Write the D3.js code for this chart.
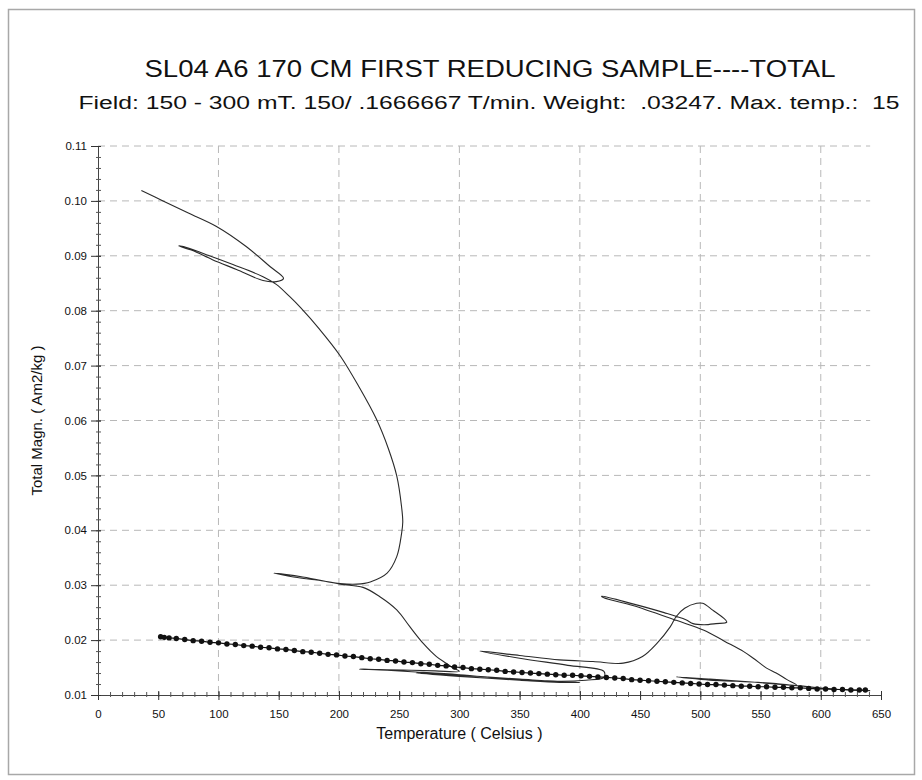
<!DOCTYPE html>
<html>
<head>
<meta charset="utf-8">
<script src="https://cdn.jsdelivr.net/npm/d3@7"></script>
<style>
  body { margin: 0; background: #fff; }
  svg { display: block; font-family: "Liberation Sans Narrow", "Liberation Sans", Arial, sans-serif; }
</style>
</head>
<body>
<svg width="922" height="780"></svg>
<script>
// measured run (heating / cooling cycles), temperature and magnetization
const runT = [36, 54, 75, 98, 123, 143, 154, 148, 137, 115, 95, 78, 67, 71, 90, 112, 137, 148,
  159, 168, 184, 201, 217, 231, 241, 248, 252, 253, 252, 248, 240, 226, 215, 201, 180, 168, 146,
  170, 201, 220, 234, 248, 259, 270, 281, 289, 295, 300,
  280, 260, 240, 217,
  240, 264, 300, 350, 400,
  383, 350, 300, 264,
  300, 350, 383, 405, 420,
  420, 390, 350, 317,
  350, 383, 411, 436, 452, 464, 475, 480, 487, 497, 502, 510, 522,
  513, 503, 494, 488, 470, 444, 418,
  420, 444, 480, 503, 520, 536, 544, 555, 563, 572, 580,
  563, 530, 508, 480,
  508, 540, 580, 610, 641];
const runM = [0.1019, 0.1000, 0.0978, 0.0954, 0.0917, 0.0880, 0.0859, 0.0853, 0.0855, 0.0875, 0.0893, 0.0910, 0.0918, 0.0917, 0.0902, 0.0884, 0.0862, 0.0848,
  0.0826, 0.0806, 0.0766, 0.0718, 0.0660, 0.0603, 0.0549, 0.0499, 0.0443, 0.0415, 0.0394, 0.0352, 0.0322, 0.0306, 0.0302, 0.0303, 0.0310, 0.0313, 0.0322,
  0.0315, 0.0302, 0.0296, 0.0279, 0.0255, 0.0224, 0.0194, 0.0170, 0.0158, 0.0149, 0.0143,
  0.0144, 0.0145, 0.0146, 0.0147,
  0.0145, 0.0142, 0.0137, 0.0128, 0.0123,
  0.0123, 0.0127, 0.0134, 0.0140,
  0.0136, 0.0129, 0.0125, 0.0127, 0.0132,
  0.0143, 0.0154, 0.0167, 0.0180,
  0.0172, 0.0164, 0.0161, 0.0158, 0.0170, 0.0194, 0.0224, 0.0243, 0.0258, 0.0267, 0.0267, 0.0255, 0.0233,
  0.0230, 0.0228, 0.0230, 0.0237, 0.0250, 0.0266, 0.0280,
  0.0277, 0.0263, 0.0236, 0.0218, 0.0198, 0.0179, 0.0167, 0.0149, 0.0140, 0.0128, 0.0118,
  0.0121, 0.0125, 0.0127, 0.0133,
  0.0129, 0.0124, 0.0117, 0.0111, 0.0108];

// final curve drawn with markers
const dotT = [52, 55, 59, 65, 72, 79, 86, 93, 100, 107, 114, 121, 128, 135, 142, 149, 156, 163, 170, 177,
  184, 191, 198, 205, 212, 219, 226, 233, 240, 247, 254, 261, 268, 275, 282, 289, 296, 303, 310, 317,
  324, 331, 338, 345, 352, 359, 366, 373, 380, 387, 394, 401, 408, 415, 422, 429, 436, 443, 450, 457,
  464, 471, 478, 485, 492, 499, 506, 513, 520, 527, 534, 541, 548, 555, 562, 569, 576, 583, 590, 597,
  604, 611, 618, 625, 632, 637];
const dotM = [0.0206, 0.0205, 0.0204, 0.0203, 0.0201, 0.0199, 0.0198, 0.0196, 0.0195, 0.0193, 0.0192, 0.0190, 0.0189, 0.0187, 0.0186, 0.0184, 0.0183, 0.0181, 0.0179, 0.0178,
  0.0176, 0.0174, 0.0173, 0.0171, 0.0170, 0.0168, 0.0166, 0.0165, 0.0163, 0.0162, 0.0160, 0.0159, 0.0157, 0.0156, 0.0154, 0.0153, 0.0151, 0.0150, 0.0148, 0.0147,
  0.0146, 0.0145, 0.0143, 0.0142, 0.0141, 0.0140, 0.0139, 0.0138, 0.0137, 0.0136, 0.0136, 0.0135, 0.0134, 0.0133, 0.0132, 0.0131, 0.0130, 0.0128, 0.0127, 0.0126,
  0.0125, 0.0124, 0.0123, 0.0122, 0.0121, 0.0120, 0.0119, 0.0119, 0.0118, 0.0117, 0.0116, 0.0116, 0.0115, 0.0115, 0.0114, 0.0114, 0.0113, 0.0113, 0.0112, 0.0111,
  0.0111, 0.0110, 0.0110, 0.0109, 0.0109, 0.0109];

const xTicks = [0, 50, 100, 150, 200, 250, 300, 350, 400, 450, 500, 550, 600, 650];
const xGrid = [100, 200, 300, 400, 500, 600];
const yTicks = [0.01, 0.02, 0.03, 0.04, 0.05, 0.06, 0.07, 0.08, 0.09, 0.10, 0.11];

const titleText = "SL04 A6 170 CM FIRST REDUCING SAMPLE----TOTAL";
const subtitleText = "Field: 150 - 300 mT. 150/ .1666667 T/min. Weight:  .03247. Max. temp.:  15";

const svg = d3.select("svg"),
      margin = { top: 146, right: 41, bottom: 85, left: 98 },
      width = +svg.attr("width") - margin.left - margin.right,
      height = +svg.attr("height") - margin.top - margin.bottom;

const tickFont = "\"Liberation Sans Narrow\", \"Liberation Sans\", Arial, sans-serif";

// outer frame
svg.append("rect")
  .attr("x", 8.5).attr("y", 9.5)
  .attr("width", 906).attr("height", 765)
  .attr("fill", "#fff")
  .attr("stroke", "#a8a8a8")
  .attr("stroke-width", 1.5);

svg.append("text")
  .attr("x", 490).attr("y", 77)
  .attr("text-anchor", "middle")
  .attr("font-size", 23)
  .attr("fill", "#111")
  .attr("textLength", 691)
  .attr("lengthAdjust", "spacingAndGlyphs")
  .text(titleText);

svg.append("text")
  .attr("x", 489).attr("y", 109)
  .attr("text-anchor", "middle")
  .attr("font-size", 18)
  .attr("fill", "#111")
  .style("white-space", "pre")
  .attr("textLength", 821)
  .attr("lengthAdjust", "spacingAndGlyphs")
  .text(subtitleText);

const chart = svg.append("g")
  .attr("transform", `translate(${margin.left},${margin.top})`);

const x = d3.scaleLinear().domain([0, 650]).range([0, width]);
const y = d3.scaleLinear().domain([0.01, 0.11]).range([height, 0]);

// dashed grid
chart.append("g")
  .selectAll("line")
  .data(yTicks.slice(1))
  .join("line")
  .attr("x1", 0).attr("x2", x(641))
  .attr("y1", d => y(d)).attr("y2", d => y(d))
  .attr("stroke", "#b8b8b8")
  .attr("stroke-dasharray", "7,5");

chart.append("g")
  .selectAll("line")
  .data(xGrid)
  .join("line")
  .attr("x1", d => x(d)).attr("x2", d => x(d))
  .attr("y1", 0).attr("y2", height)
  .attr("stroke", "#b8b8b8")
  .attr("stroke-dasharray", "7,5");

// axes
const xAxis = chart.append("g")
  .attr("transform", `translate(0,${height})`)
  .call(d3.axisBottom(x).tickValues(d3.range(0, 651, 10)).tickSize(2).tickFormat(""));
xAxis.selectAll(".tick line").attr("y1", -3).attr("stroke", "#555");
xAxis.append("g")
  .call(d3.axisBottom(x).tickValues(xTicks).tickSize(5).tickFormat(d3.format("d")))
  .call(g => g.select(".domain").remove())
  .call(g => g.selectAll(".tick line").attr("y1", -4).attr("stroke", "#333"))
  .call(g => g.selectAll(".tick text").attr("dy", "1.3em").attr("font-size", 11.5).attr("fill", "#111")
    .attr("font-family", tickFont));
xAxis.select(".domain").attr("stroke", "#444");

const yAxis = chart.append("g")
  .call(d3.axisLeft(y).tickValues(d3.range(0, 51).map(i => 0.01 + i * 0.002)).tickSize(2).tickFormat(""));
yAxis.selectAll(".tick line").attr("x1", 3).attr("stroke", "#555");
yAxis.append("g")
  .call(d3.axisLeft(y).tickValues(yTicks).tickSize(7).tickFormat(d3.format(".2f")))
  .call(g => g.select(".domain").remove())
  .call(g => g.selectAll(".tick line").attr("x1", 3).attr("stroke", "#333"))
  .call(g => g.selectAll(".tick text").attr("x", -11).attr("font-size", 11.5).attr("fill", "#111")
    .attr("font-family", tickFont));
yAxis.select(".domain").attr("stroke", "#444");

// axis titles
chart.append("text")
  .attr("x", x(300)).attr("y", height + 44)
  .attr("text-anchor", "middle")
  .attr("font-size", 16)
  .attr("fill", "#111")
  .text("Temperature ( Celsius )");

chart.append("text")
  .attr("transform", "rotate(-90)")
  .attr("x", -y(0.06)).attr("y", -56)
  .attr("text-anchor", "middle")
  .attr("font-size", 15)
  .attr("fill", "#111")
  .text("Total Magn. ( Am2/kg )");

// measured run
const line = d3.line()
  .x(d => x(d[0]))
  .y(d => y(d[1]))
  .curve(d3.curveCatmullRom.alpha(0.5));

chart.append("path")
  .datum(runT.map((t, i) => [t, runM[i]]))
  .attr("fill", "none")
  .attr("stroke", "#2a2a2a")
  .attr("stroke-width", 1.1)
  .attr("d", line);

// final curve with markers
const dots = dotT.map((t, i) => [t, dotM[i]]);
chart.append("path")
  .datum(dots)
  .attr("fill", "none")
  .attr("stroke", "#111")
  .attr("stroke-width", 1.2)
  .attr("d", d3.line().x(d => x(d[0])).y(d => y(d[1])));

chart.selectAll(".dot")
  .data(dots)
  .join("circle")
  .attr("class", "dot")
  .attr("cx", d => x(d[0]))
  .attr("cy", d => y(d[1]))
  .attr("r", 2.7)
  .attr("fill", "#111");
</script>
</body>
</html>
